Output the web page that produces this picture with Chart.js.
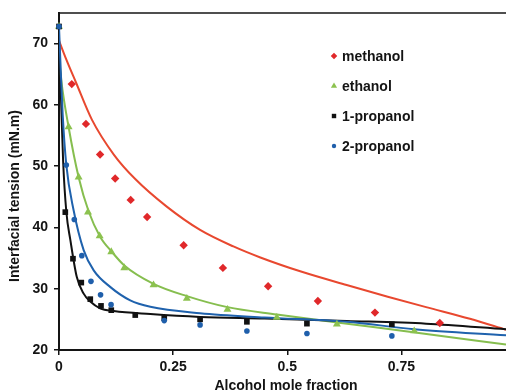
<!DOCTYPE html>
<html>
<head>
<meta charset="utf-8">
<script src="https://cdn.jsdelivr.net/npm/chart.js@4.4.1/dist/chart.umd.min.js"></script>
<style>
  html, body { margin: 0; padding: 0; background: #ffffff; }
  #wrap { width: 506px; height: 392px; position: relative; }
  canvas { display: block; }
</style>
</head>
<body>
<div id="wrap"><canvas id="c" width="506" height="392"></canvas></div>
<script>
// Measured interfacial tension vs alcohol mole fraction
const seriesNames = ['methanol', 'ethanol', '1-propanol', '2-propanol'];

const methanolX = [0.028, 0.059, 0.090, 0.123, 0.157, 0.193, 0.273, 0.359, 0.458, 0.567, 0.692, 0.834];
const methanolY = [63.4, 56.9, 51.9, 48.0, 44.5, 41.7, 37.1, 33.4, 30.4, 28.0, 26.1, 24.4];

const ethanolX = [0, 0.021, 0.043, 0.0635, 0.089, 0.1145, 0.143, 0.207, 0.280, 0.369, 0.477, 0.6086, 0.778];
const ethanolY = [72.8, 56.4, 48.2, 42.5, 38.6, 36.0, 33.4, 30.6, 28.4, 26.6, 25.3, 24.2, 23.1];

const propanol1X = [0, 0.0138, 0.0306, 0.0488, 0.0685, 0.092, 0.1145, 0.167, 0.2305, 0.309, 0.4115, 0.543, 0.729];
const propanol1Y = [72.8, 42.5, 34.9, 31.0, 28.3, 27.2, 26.5, 25.7, 25.2, 25.0, 24.6, 24.3, 24.2];

const propanol2X = [0, 0.016, 0.0335, 0.050, 0.070, 0.091, 0.114, 0.2305, 0.309, 0.4115, 0.543, 0.729];
const propanol2Y = [72.8, 50.2, 41.3, 35.4, 31.2, 29.0, 27.4, 24.8, 24.1, 23.1, 22.7, 22.3];

// Model curves
const methanolFitX = [0, 0.015, 0.037, 0.072, 0.12, 0.167, 0.236, 0.309, 0.382, 0.441, 0.53, 0.63, 0.72, 0.804, 0.9, 0.979];
const methanolFitY = [70.5, 67.6, 63.7, 57.6, 51.9, 47.9, 43.4, 39.6, 36.9, 35.1, 32.8, 30.6, 28.7, 27.0, 25.1, 23.3];

const ethanolFitX = [0, 0.005, 0.021, 0.043, 0.065, 0.09, 0.116, 0.143, 0.207, 0.28, 0.369, 0.477, 0.609, 0.776, 0.979];
const ethanolFitY = [68.0, 64.0, 56.4, 48.2, 42.6, 38.5, 36.0, 33.8, 30.8, 28.8, 27.0, 25.8, 24.5, 22.9, 20.9];

const propanol1FitX = [0, 0.004, 0.009, 0.016, 0.025, 0.039, 0.054, 0.0685, 0.09, 0.12, 0.2, 0.309, 0.45, 0.63, 0.804, 0.979];
const propanol1FitY = [70.0, 62.0, 50.9, 42.6, 37.9, 31.9, 29.2, 27.9, 26.8, 26.35, 25.86, 25.4, 25.15, 24.75, 24.3, 23.4];

const propanol2FitX = [0, 0.003, 0.008, 0.016, 0.032, 0.054, 0.076, 0.112, 0.156, 0.2, 0.309, 0.45, 0.63, 0.778, 0.979];
const propanol2FitY = [72.8, 67.2, 58.5, 50.2, 42.8, 36.3, 33.0, 30.3, 28.1, 27.05, 26.0, 25.3, 24.6, 23.4, 22.4];

const xTicks = [0, 0.25, 0.5, 0.75];
const xTickLabels = ['0', '0.25', '0.5', '0.75'];
const yTicks = [20, 30, 40, 50, 60, 70];
const yTickLabels = ['20', '30', '40', '50', '60', '70'];

const xTitle = 'Alcohol mole fraction';
const yTitle = 'Interfacial tension (mN.m)';

const pair = (xs, ys) => xs.map((x, i) => ({ x: x, y: ys[i] }));

const INK = '#141414';
const FONT = 'Liberation Sans, Arial, Helvetica, sans-serif';

const styles = {
  'methanol':   { line: '#e8482f', mark: '#e0282a', pointStyle: 'rectRot',  radius: 4.2 },
  'ethanol':    { line: '#86be4f', mark: '#8cc24f', pointStyle: 'triangle', radius: 4.6 },
  '1-propanol': { line: '#111111', mark: '#111111', pointStyle: 'rect',     radius: 4.0 },
  '2-propanol': { line: '#1f62ad', mark: '#1f5fab', pointStyle: 'circle',   radius: 2.8 }
};

function markerSet(name, xs, ys) {
  const s = styles[name];
  return {
    label: name,
    data: pair(xs, ys),
    showLine: false,
    clip: false,
    pointStyle: s.pointStyle,
    pointRadius: s.radius,
    pointHoverRadius: s.radius,
    backgroundColor: s.mark,
    borderColor: s.mark,
    borderWidth: 0
  };
}

function curveSet(name, xs, ys) {
  const s = styles[name];
  return {
    label: name + ' fit',
    data: pair(xs, ys),
    showLine: true,
    pointRadius: 0,
    borderColor: s.line,
    borderWidth: 2,
    cubicInterpolationMode: 'monotone',
    fill: false
  };
}

// Legend drawn inside the plot, markers + bold labels
const insideLegend = {
  id: 'insideLegend',
  afterDatasetsDraw(chart) {
    const ctx = chart.ctx;
    const x0 = 334, y0 = 56, step = 30;
    ctx.save();
    seriesNames.forEach((name, i) => {
      const s = styles[name];
      const y = y0 + i * step;
      ctx.fillStyle = s.mark;
      ctx.strokeStyle = s.mark;
      ctx.lineWidth = 0;
      Chart.helpers.drawPoint(ctx, { pointStyle: s.pointStyle, radius: s.radius * 0.78, rotation: 0, borderWidth: 0 }, x0, y);
      ctx.fillStyle = INK;
      ctx.font = 'bold 14px ' + FONT;
      ctx.textAlign = 'left';
      ctx.textBaseline = 'middle';
      ctx.fillText(name, x0 + 8, y + 1);
    });
    ctx.restore();
  }
};

// Axis titles and the top frame line
const frameAndTitles = {
  id: 'frameAndTitles',
  afterDraw(chart) {
    const ctx = chart.ctx;
    const a = chart.chartArea;
    ctx.save();
    ctx.strokeStyle = INK;
    ctx.lineWidth = 1.5;
    ctx.beginPath();
    ctx.moveTo(a.left, a.top);
    ctx.lineTo(a.right, a.top);
    ctx.stroke();

    ctx.fillStyle = INK;
    ctx.font = 'bold 14px ' + FONT;
    ctx.textAlign = 'center';
    ctx.textBaseline = 'alphabetic';
    ctx.fillText(xTitle, 286, 390);

    ctx.translate(18.5, 196);
    ctx.rotate(-Math.PI / 2);
    ctx.fillText(yTitle, 0, 0);
    ctx.restore();
  }
};

const tickFont = { family: FONT, size: 14, weight: 'bold' };

new Chart(document.getElementById('c'), {
  type: 'scatter',
  data: {
    datasets: [
      markerSet('2-propanol', propanol2X, propanol2Y),
      markerSet('1-propanol', propanol1X, propanol1Y),
      markerSet('ethanol', ethanolX, ethanolY),
      markerSet('methanol', methanolX, methanolY),
      curveSet('2-propanol', propanol2FitX, propanol2FitY),
      curveSet('1-propanol', propanol1FitX, propanol1FitY),
      curveSet('ethanol', ethanolFitX, ethanolFitY),
      curveSet('methanol', methanolFitX, methanolFitY)
    ]
  },
  options: {
    responsive: false,
    animation: false,
    devicePixelRatio: 1,
    layout: { autoPadding: false, padding: { top: 13, right: 0, bottom: 0, left: 0 } },
    plugins: {
      legend: { display: false },
      tooltip: { enabled: false },
      title: { display: false }
    },
    scales: {
      x: {
        type: 'linear',
        min: 0,
        max: 0.979,
        afterBuildTicks: (scale) => { scale.ticks = xTicks.map(v => ({ value: v })); },
        afterFit: (scale) => { scale.height = 42; scale.paddingRight = 0; scale.paddingLeft = 0; },
        ticks: {
          autoSkip: false,
          maxRotation: 0,
          padding: 4,
          color: INK,
          font: tickFont,
          callback: (v, i) => xTickLabels[i]
        },
        grid: { drawOnChartArea: false, drawTicks: true, tickLength: 5, color: INK, lineWidth: 1.5 },
        border: { display: true, color: INK, width: 2 }
      },
      y: {
        type: 'linear',
        min: 20,
        max: 75,
        afterBuildTicks: (scale) => { scale.ticks = yTicks.map(v => ({ value: v })); },
        afterFit: (scale) => { scale.width = 59; scale.paddingTop = 0; scale.paddingBottom = 0; },
        ticks: {
          autoSkip: false,
          padding: 6,
          color: INK,
          font: tickFont,
          callback: (v, i) => yTickLabels[i]
        },
        grid: { drawOnChartArea: false, drawTicks: true, tickLength: 5, color: INK, lineWidth: 1.5 },
        border: { display: true, color: INK, width: 2 }
      }
    }
  },
  plugins: [insideLegend, frameAndTitles]
});
</script>
</body>
</html>
